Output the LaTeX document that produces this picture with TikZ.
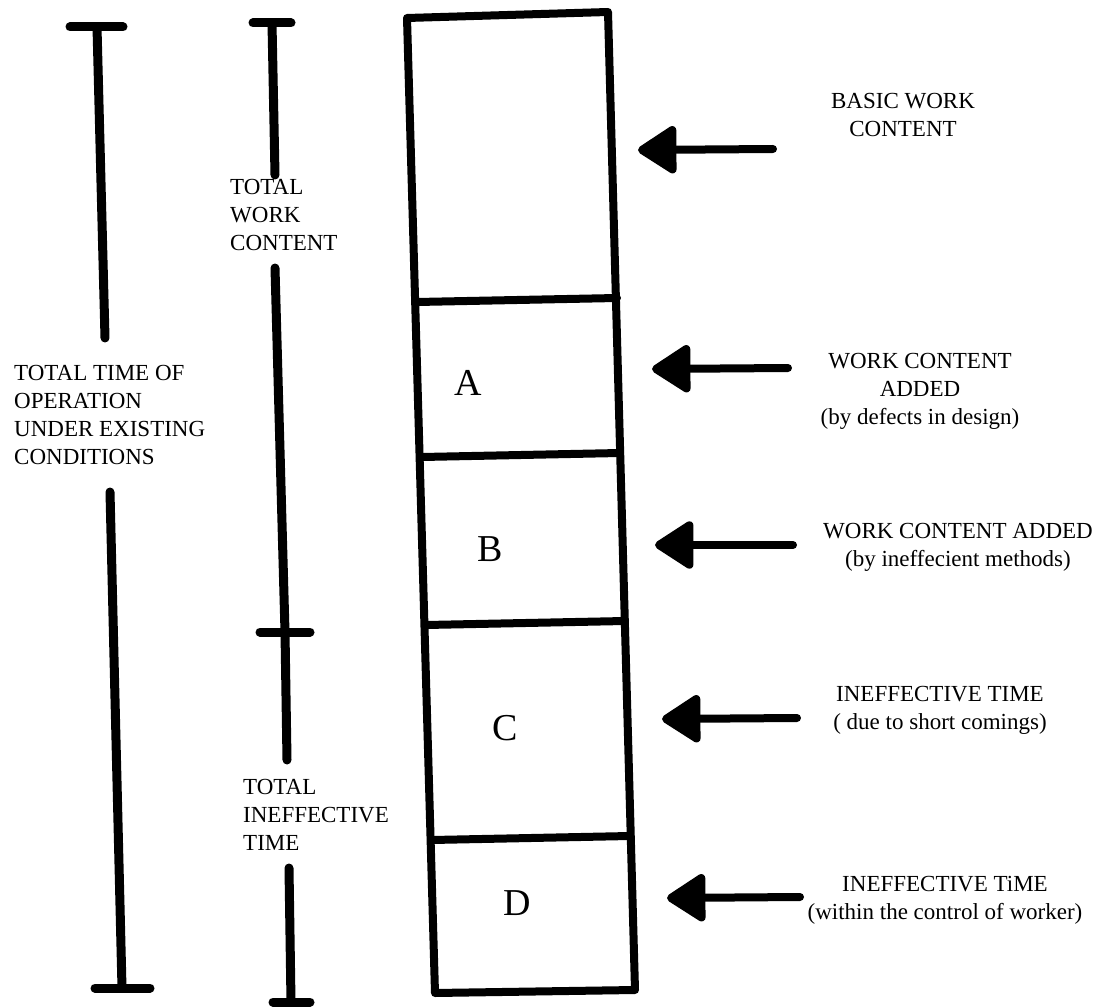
\documentclass[tikz,border=0pt]{standalone}
\usepackage{fontspec}
\setmainfont{Liberation Serif}
\usetikzlibrary{arrows.meta,positioning}

\tikzset{
  bar/.style={line width=9pt,line cap=round},
  boxline/.style={line width=8pt,line join=round,line cap=round},
  lbl/.style={font=\fontsize{23}{28}\selectfont,inner sep=0pt},
  seglbl/.style={font=\fontsize{38}{38}\selectfont,inner sep=0pt},
  pointer/.style={line width=8pt,line cap=round,-{Triangle[length=42pt,width=52pt,round]}}
}

\begin{document}
\begin{tikzpicture}[x=1pt,y=-1pt]
\useasboundingbox (0,0) rectangle (1111,1008);

% the column and its parts
\coordinate (c0l) at (407,18);  \coordinate (c0r) at (608,12);
\coordinate (c1l) at (417,302); \coordinate (c1r) at (617,298);
\coordinate (c2l) at (422,457); \coordinate (c2r) at (620,453);
\coordinate (c3l) at (426,625); \coordinate (c3r) at (625,621);
\coordinate (c4l) at (432,840); \coordinate (c4r) at (630,836);
\coordinate (c5l) at (435,993); \coordinate (c5r) at (635,990);
\draw[boxline] (c0l) -- (c0r) -- (c5r) -- (c5l) -- cycle;
\draw[boxline] (c1l) -- (c1r); \draw[boxline] (c2l) -- (c2r);
\draw[boxline] (c3l) -- (c3r); \draw[boxline] (c4l) -- (c4r);

\node[seglbl] (sa) at (468,383) {A};
\node[seglbl] (sb) at (490,549) {B};
\node[seglbl] (sc) at (505,728) {C};
\node[seglbl] (sd) at (517,903) {D};

% labels on the right
\node[lbl,align=center] (basic) at (903,115) {BASIC WORK\\CONTENT};
\node[lbl,align=center] (adda) at (920,391) {WORK CONTENT\\ADDED\\(by defects in design)};
\node[lbl,align=center] (addb) at (958,547) {WORK CONTENT ADDED\\(by ineffecient methods)};
\node[lbl,align=center] (ineffc) at (940,710) {INEFFECTIVE TIME\\( due to short comings)};
\node[lbl,align=center] (ineffd) at (945,900) {INEFFECTIVE TiME\\(within the control of worker)};

% pointers
\coordinate (pb0) at (773,149); \coordinate (pb1) at (638,150);
\coordinate (pa0) at (788,368); \coordinate (pa1) at (652,369);
\coordinate (pB0) at (793,545); \coordinate (pB1) at (655,545);
\coordinate (pc0) at (797,718); \coordinate (pc1) at (662,719);
\coordinate (pd0) at (800,897); \coordinate (pd1) at (667,898);
\draw[pointer] (pb0) -- (pb1); \draw[pointer] (pa0) -- (pa1); \draw[pointer] (pB0) -- (pB1);
\draw[pointer] (pc0) -- (pc1); \draw[pointer] (pd0) -- (pd1);

% total time bar
\node[lbl,align=left,anchor=west] (ttime) at (14,415) {TOTAL TIME OF\\OPERATION\\UNDER EXISTING\\CONDITIONS};
\coordinate (tt0) at (97,27); \coordinate (tt1) at (105,338);
\coordinate (tt2) at (110,492); \coordinate (tt3) at (122,988);
\draw[bar] (70,27) -- (123,27); \draw[bar] (tt0) -- (tt1);
\draw[bar] (tt2) -- (tt3); \draw[bar] (95,988) -- (150,988);

% work content / ineffective time bar
\node[lbl,align=left,anchor=west] (twork) at (230,215) {TOTAL\\WORK\\CONTENT};
\node[lbl,align=left,anchor=west] (tineff) at (243,815) {TOTAL\\INEFFECTIVE\\TIME};
\coordinate (tw0) at (272,23); \coordinate (tw1) at (275,175);
\coordinate (tw2) at (275,268); \coordinate (tw3) at (285,632);
\coordinate (tw4) at (287,760); \coordinate (tw5) at (289,868);
\coordinate (tw6) at (291,1002);
\draw[bar] (253,23) -- (291,23); \draw[bar] (tw0) -- (tw1);
\draw[bar] (tw2) -- (tw3) -- (tw4); \draw[bar] (260,632) -- (310,632);
\draw[bar] (tw5) -- (tw6); \draw[bar] (273,1002) -- (310,1002);
\end{tikzpicture}
\end{document}
